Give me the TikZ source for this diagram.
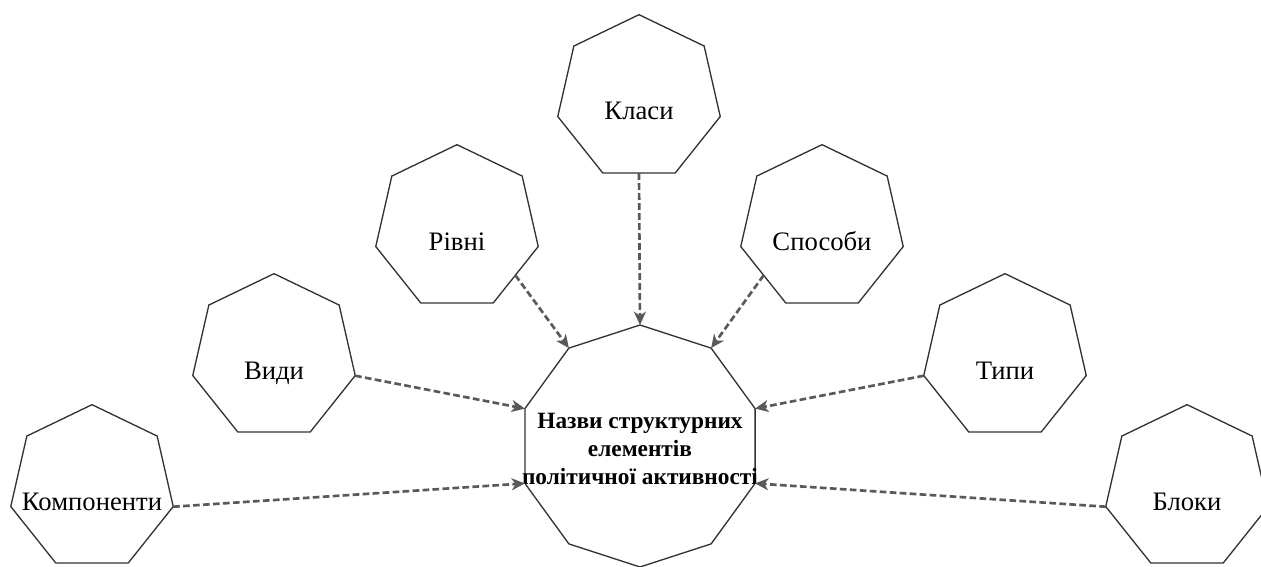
\documentclass[tikz,border=0pt]{standalone}
\usepackage{fontspec}
\setmainfont{Liberation Serif}
\usetikzlibrary{shapes.geometric,arrows.meta}
\begin{document}
\begin{tikzpicture}[x=0.75pt,y=0.75pt,
    hept/.style={regular polygon,regular polygon sides=7,draw=black!80,line width=1pt,
      minimum size=125pt,inner sep=0pt,outer sep=0pt},
    lbl/.style={font=\fontsize{20}{24}\selectfont,anchor=base,inner sep=0pt},
    link/.style={draw=black!65,line width=2pt,dash pattern=on 5pt off 2.5pt,
      -{Stealth[length=10pt,width=9pt,inset=3pt]}}]
  \useasboundingbox (0,0) rectangle (1261,-567);
  \node[regular polygon,regular polygon sides=10,shape border rotate=18,draw=black!80,
    line width=1pt,minimum size=181.5pt,inner sep=0pt,outer sep=0pt] (centre) at (640,-446) {};
  \node[font=\bfseries\fontsize{17.5}{21}\selectfont,align=center,yshift=-2.5pt] (title) at (centre)
    {Назви структурних\\елементів\\політичної активності};

  \foreach \x/\y/\name/\txt in {92/-488/komp/Компоненти,274/-357/vydy/Види,
      457/-228/rivni/Рівні,639/-98/klasy/Класи,822/-228/sposoby/Способи,
      1005/-357/typy/Типи,1187/-488/bloky/Блоки}{
    \node[hept] (\name) at (\x,\y) {};
    \node[lbl] (\name-t) at ([yshift=-16.5pt]\name.center) {\txt};
  }

  \draw[link] (komp.347) -- (centre.198);
  \draw[link] (vydy.347) -- (centre.162);
  \draw[link] (rivni.321) -- (centre.126);
  \draw[link] (klasy.270) -- (centre.90);
  \draw[link] (sposoby.219) -- (centre.54);
  \draw[link] (typy.193) -- (centre.18);
  \draw[link] (bloky.193) -- (centre.342);
\end{tikzpicture}
\end{document}
